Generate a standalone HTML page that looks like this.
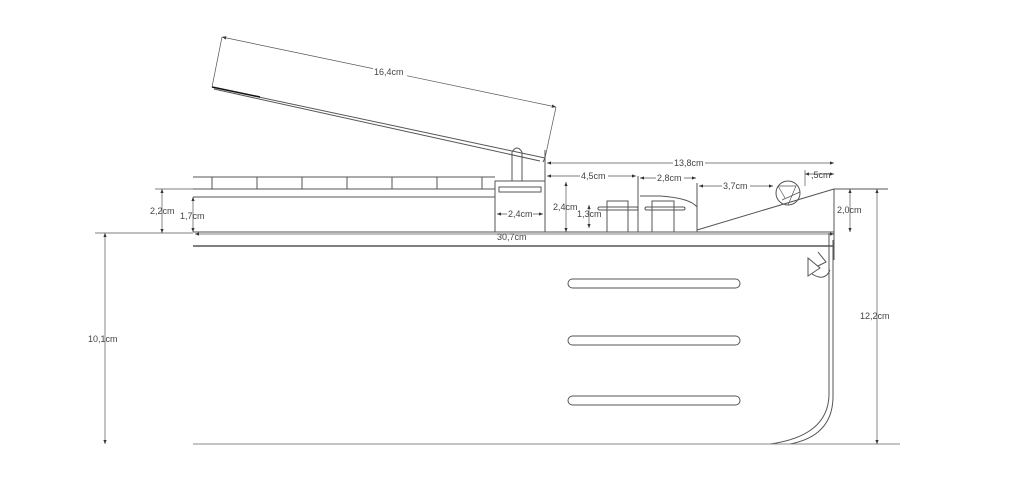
<!DOCTYPE html>
<html><head><style>body{margin:0;background:#fff}svg{display:block}text{font-family:"Liberation Sans",sans-serif;font-size:9px;fill:#444;stroke:none}</style></head><body>
<svg width="1024" height="499" viewBox="0 0 1024 499" stroke="#555" fill="none" stroke-width="1">
<defs><marker id="a" viewBox="0 0 10 10" refX="10" refY="5" markerWidth="6" markerHeight="6" orient="auto-start-reverse"><path d="M0,1L10,5L0,9z" fill="#333" stroke="none"/></marker></defs>
<!-- hull -->
<path d="M193,444 L770,444 Q828,436 829,395 L829,246"/>
<path d="M833,240 L833,398 Q832,436 790,444"/>
<line x1="193" y1="232" x2="834" y2="232"/>
<line x1="193" y1="246" x2="834" y2="246" stroke-width="1.5"/>
<line x1="829" y1="233" x2="829" y2="246"/><line x1="834" y1="189" x2="834" y2="260"/>
<line x1="193" y1="444" x2="900" y2="444" stroke="#888"/>
<!-- ovals -->
<rect x="568" y="279" width="172" height="9" rx="4.5"/>
<rect x="568" y="336" width="172" height="9" rx="4.5"/>
<rect x="568" y="396" width="172" height="9" rx="4.5"/>
<!-- upper blocks -->
<line x1="193" y1="177" x2="495" y2="177"/><line x1="193" y1="189" x2="495" y2="189"/><line x1="193" y1="197" x2="495" y2="197"/>
<g><line x1="212" y1="177" x2="212" y2="189"/><line x1="257" y1="177" x2="257" y2="189"/><line x1="302" y1="177" x2="302" y2="189"/><line x1="347" y1="177" x2="347" y2="189"/><line x1="392" y1="177" x2="392" y2="189"/><line x1="437" y1="177" x2="437" y2="189"/><line x1="482" y1="177" x2="482" y2="189"/></g>
<rect x="495" y="181" width="50" height="51"/>
<rect x="499" y="187" width="42" height="5"/>
<path d="M512,181 L512,152 Q517,144 522,152 L522,181"/>
<!-- panel -->
<line x1="212" y1="87" x2="545" y2="158"/><line x1="214" y1="89" x2="540" y2="161"/><line x1="545" y1="158" x2="543" y2="162"/>
<line x1="212" y1="87" x2="260" y2="97" stroke="#111" stroke-width="1.5"/>
<line x1="212" y1="87" x2="222" y2="37" stroke-width=".7"/><line x1="545" y1="158" x2="556" y2="107" stroke-width=".7"/>
<line x1="222" y1="37" x2="556" y2="107" marker-start="url(#a)" marker-end="url(#a)" stroke-width=".7"/>
<rect x="373" y="65" width="34" height="12" fill="#fff" stroke="none"/><text x="374" y="75">16,4cm</text>
<!-- right deck -->
<line x1="545" y1="150" x2="545" y2="232"/>
<line x1="638" y1="176" x2="638" y2="232"/><line x1="697" y1="183" x2="697" y2="232"/>
<path d="M640,196 L660,196 Q690,198 697,207"/>
<rect x="607" y="201" width="21" height="31"/><rect x="652" y="201" width="22" height="31"/>
<rect x="598" y="207" width="40" height="3" rx="1.5"/><rect x="645" y="207" width="40" height="3" rx="1.5"/>
<line x1="697" y1="230" x2="834" y2="189"/><line x1="834" y1="189" x2="888" y2="189"/>
<circle cx="788" cy="193" r="12"/><path d="M778,186L796,186L788,205M782,200L800,192M778,186L785,198" stroke-width=".7"/>
<path d="M808,258 L820,268 L808,276 Z M818,252 L826,262 L818,266 M812,274 Q825,282 830,270"/>
<!-- dimensions -->
<g stroke-width=".7">
<line x1="547" y1="163" x2="834" y2="163" marker-start="url(#a)" marker-end="url(#a)"/>
<line x1="547" y1="176" x2="636" y2="176" marker-start="url(#a)" marker-end="url(#a)"/>
<line x1="640" y1="178" x2="696" y2="178" marker-start="url(#a)" marker-end="url(#a)"/>
<line x1="699" y1="186" x2="773" y2="186" marker-start="url(#a)" marker-end="url(#a)"/>
<line x1="805" y1="174" x2="834" y2="174" marker-start="url(#a)" marker-end="url(#a)"/>
<line x1="805" y1="170" x2="805" y2="186"/>
<line x1="566" y1="182" x2="566" y2="232" marker-start="url(#a)" marker-end="url(#a)"/>
<line x1="589" y1="205" x2="589" y2="228" marker-start="url(#a)" marker-end="url(#a)"/>
<line x1="497" y1="214" x2="543" y2="214" marker-start="url(#a)" marker-end="url(#a)"/>
<line x1="195" y1="234" x2="834" y2="234" marker-start="url(#a)" marker-end="url(#a)"/>
<line x1="850" y1="189" x2="850" y2="232" marker-start="url(#a)" marker-end="url(#a)"/>
<line x1="877" y1="189" x2="877" y2="444" marker-start="url(#a)" marker-end="url(#a)"/>
<line x1="105" y1="233" x2="105" y2="444" marker-start="url(#a)" marker-end="url(#a)"/>
<line x1="95" y1="233" x2="193" y2="233"/>
<line x1="162" y1="189" x2="162" y2="233" marker-start="url(#a)" marker-end="url(#a)"/>
<line x1="155" y1="189" x2="193" y2="189"/>
<line x1="193" y1="197" x2="193" y2="232" marker-start="url(#a)" marker-end="url(#a)"/>
</g>
<g stroke="none">
<rect x="673" y="158" width="32" height="10" fill="#fff"/><text x="674" y="166">13,8cm</text>
<rect x="580" y="171" width="28" height="10" fill="#fff"/><text x="581" y="179">4,5cm</text>
<rect x="656" y="173" width="28" height="10" fill="#fff"/><text x="657" y="181">2,8cm</text>
<rect x="722" y="181" width="28" height="10" fill="#fff"/><text x="723" y="189">3,7cm</text>
<text x="811" y="178">,5cm</text>
<rect x="507" y="209" width="26" height="10" fill="#fff"/><text x="508" y="217">2,4cm</text>
<text x="553" y="210">2,4cm</text><text x="577" y="217">1,3cm</text>
<text x="497" y="240">30,7cm</text>
<text x="837" y="213">2,0cm</text><text x="860" y="319">12,2cm</text>
<text x="88" y="342">10,1cm</text><text x="150" y="214">2,2cm</text><text x="180" y="219">1,7cm</text>
</g>
</svg></body></html>
